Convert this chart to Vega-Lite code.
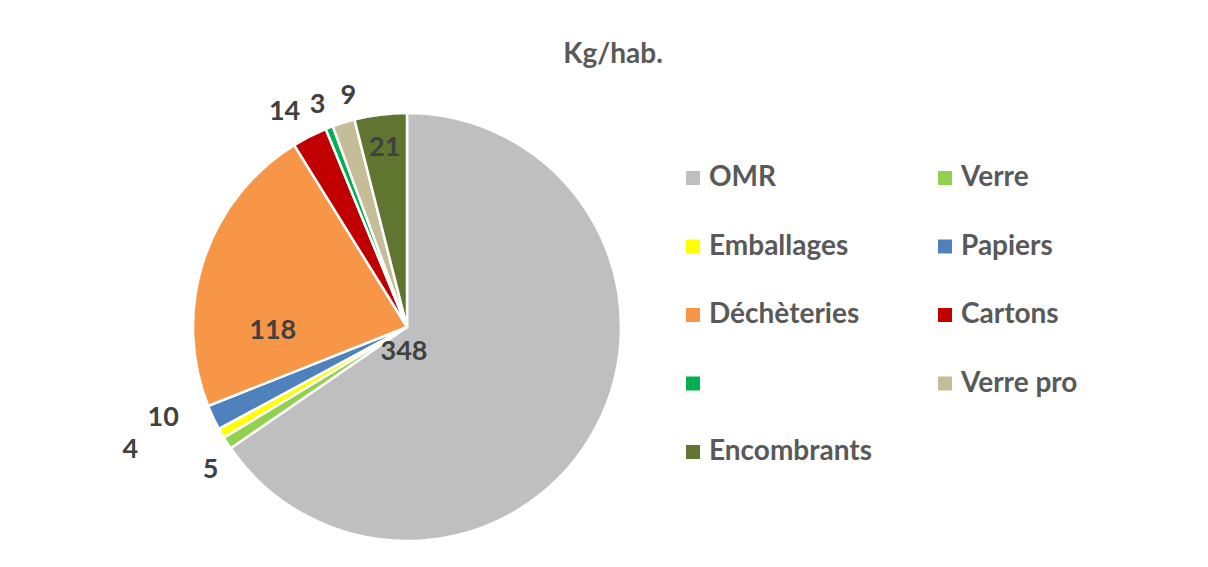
{
  "$schema": "https://vega.github.io/schema/vega-lite/v6.json",
  "width": 598,
  "height": 474,
  "autosize": {"type": "none"},
  "padding": {"left": 108, "top": 90, "right": 502, "bottom": 3},
  "background": "white",
  "config": {"view": {"stroke": null}},
  "title": {
    "text": "Kg/hab.",
    "font": "Lato",
    "fontSize": 28,
    "fontWeight": "bold",
    "color": "#595959",
    "anchor": "middle",
    "frame": "group",
    "dx": 206,
    "offset": 4
  },
  "data": {
    "values": [
      {"cat": "OMR", "value": 348, "rang": 1},
      {"cat": "Verre", "value": 5, "rang": 2},
      {"cat": "Emballages", "value": 4, "rang": 3},
      {"cat": "Papiers", "value": 10, "rang": 4},
      {"cat": "Déchèteries", "value": 118, "rang": 5},
      {"cat": "Cartons", "value": 14, "rang": 6},
      {"cat": "(vide)", "value": 3, "rang": 7},
      {"cat": "Verre pro", "value": 9, "rang": 8},
      {"cat": "Encombrants", "value": 21, "rang": 9}
    ]
  },
  "encoding": {
    "theta": {"field": "value", "type": "quantitative", "stack": true},
    "order": {"field": "rang", "type": "quantitative"}
  },
  "layer": [
    {
      "mark": {"type": "arc", "outerRadius": 214, "stroke": "white", "strokeWidth": 2.5},
      "encoding": {
        "color": {
          "field": "cat",
          "type": "nominal",
          "sort": ["OMR", "Verre", "Emballages", "Papiers", "Déchèteries", "Cartons", "(vide)", "Verre pro", "Encombrants"],
          "scale": {
            "domain": ["OMR", "Verre", "Emballages", "Papiers", "Déchèteries", "Cartons", "(vide)", "Verre pro", "Encombrants"],
            "range": ["#BFBFBF", "#92D050", "#FFFF00", "#4F81BD", "#F79646", "#C00000", "#00B050", "#C4BD97", "#5F7530"]
          },
          "legend": {
            "title": null,
            "orient": "none",
            "legendX": 571,
            "legendY": 74,
            "columns": 2,
            "direction": "horizontal",
            "symbolType": "square",
            "symbolSize": 196,
            "symbolStrokeWidth": 0,
            "labelFont": "Lato",
            "labelFontSize": 28,
            "labelFontWeight": "bold",
            "labelColor": "#595959",
            "labelOffset": 2,
            "labelLimit": 300,
            "rowPadding": 40.5,
            "columnPadding": 58,
            "padding": 0,
            "labelExpr": "datum.label === '(vide)' ? '' : datum.label"
          }
        }
      }
    },
    {
      "mark": {"type": "text", "radius": 0, "dx": -3, "dy": 25, "font": "Lato", "fontSize": 27, "fontWeight": "bold", "color": "#404040"},
      "encoding": {"text": {"condition": {"test": "datum.cat === 'OMR'", "field": "value", "type": "quantitative"}, "value": ""}}
    },
    {
      "mark": {"type": "text", "radius": 134, "dx": -7, "dy": 46, "font": "Lato", "fontSize": 27, "fontWeight": "bold", "color": "#404040"},
      "encoding": {"text": {"condition": {"test": "datum.cat === 'Déchèteries'", "field": "value", "type": "quantitative"}, "value": ""}}
    },
    {
      "mark": {"type": "text", "radius": 180, "font": "Lato", "fontSize": 27, "fontWeight": "bold", "color": "#404040"},
      "encoding": {"text": {"condition": {"test": "datum.cat === 'Encombrants'", "field": "value", "type": "quantitative"}, "value": ""}}
    },
    {
      "mark": {"type": "text", "radius": 247, "dx": -10, "dy": 5, "font": "Lato", "fontSize": 27, "fontWeight": "bold", "color": "#404040"},
      "encoding": {"text": {"condition": {"test": "datum.cat === 'Cartons'", "field": "value", "type": "quantitative"}, "value": ""}}
    },
    {
      "mark": {"type": "text", "radius": 238, "dx": -3, "font": "Lato", "fontSize": 27, "fontWeight": "bold", "color": "#404040"},
      "encoding": {"text": {"condition": {"test": "datum.cat === '(vide)'", "field": "value", "type": "quantitative"}, "value": ""}}
    },
    {
      "mark": {"type": "text", "radius": 242, "dx": 13, "font": "Lato", "fontSize": 27, "fontWeight": "bold", "color": "#404040"},
      "encoding": {"text": {"condition": {"test": "datum.cat === 'Verre pro'", "field": "value", "type": "quantitative"}, "value": ""}}
    },
    {
      "mark": {"type": "text", "radius": 215, "dx": -49, "dy": 0, "font": "Lato", "fontSize": 27, "fontWeight": "bold", "color": "#404040"},
      "encoding": {"text": {"condition": {"test": "datum.cat === 'Papiers'", "field": "value", "type": "quantitative"}, "value": ""}}
    },
    {
      "mark": {"type": "text", "radius": 215, "dx": -90, "dy": 16, "font": "Lato", "fontSize": 27, "fontWeight": "bold", "color": "#404040"},
      "encoding": {"text": {"condition": {"test": "datum.cat === 'Emballages'", "field": "value", "type": "quantitative"}, "value": ""}}
    },
    {
      "mark": {"type": "text", "radius": 242, "dx": 7, "dy": 12, "font": "Lato", "fontSize": 27, "fontWeight": "bold", "color": "#404040"},
      "encoding": {"text": {"condition": {"test": "datum.cat === 'Verre'", "field": "value", "type": "quantitative"}, "value": ""}}
    }
  ]
}
